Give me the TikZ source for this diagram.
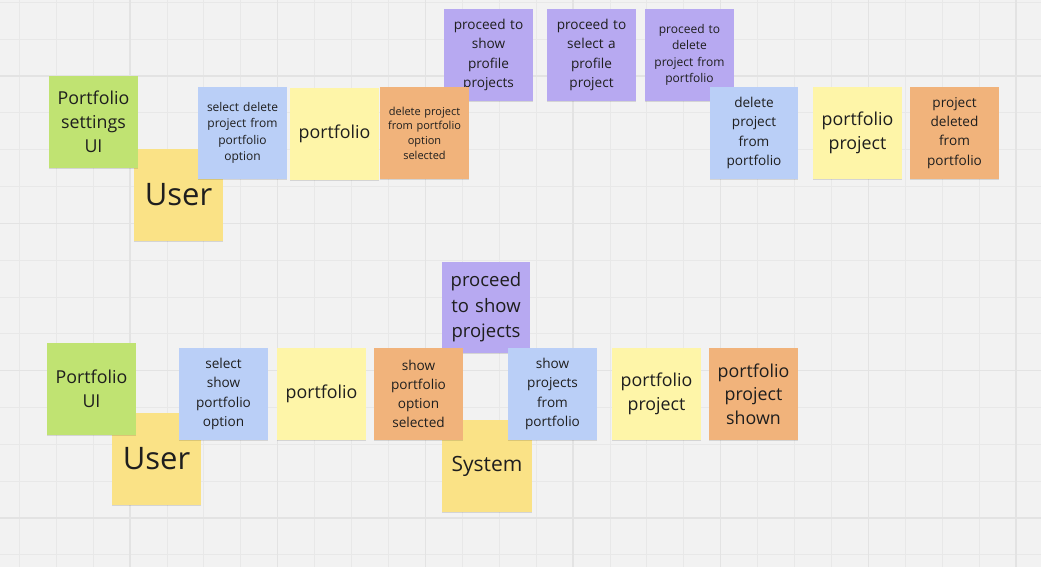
\documentclass[tikz,border=0pt]{standalone}
\usepackage{fontspec}
\setmainfont{Open Sans}
\usetikzlibrary{shadows}
\definecolor{bgc}{RGB}{242,242,242}
\definecolor{gridminor}{RGB}{232,232,232}
\definecolor{gridmajor}{RGB}{227,227,227}
\definecolor{cgreen}{RGB}{192,227,114}
\definecolor{cuser}{RGB}{250,226,134}
\definecolor{clight}{RGB}{254,245,168}
\definecolor{cblue}{RGB}{186,207,247}
\definecolor{corange}{RGB}{241,179,123}
\definecolor{cpurple}{RGB}{183,169,241}
\definecolor{ctext}{RGB}{30,30,30}
\tikzset{
  sticky/.style={rectangle, inner sep=0pt, minimum width=89pt, minimum height=92pt,
    text width=86pt, align=center, text=ctext,
    drop shadow={shadow xshift=0pt, shadow yshift=-1.3pt, opacity=0.12, fill=black}},
  fs11/.style={font=\fontsize{11}{14.7}\selectfont},
  fs12/.style={font=\fontsize{12}{16.3}\selectfont},
  fs135/.style={font=\fontsize{13.6}{19.2}\selectfont},
  fs18/.style={font=\fontsize{17.8}{24.2}\selectfont},
  fs185/.style={font=\fontsize{18.5}{25.5}\selectfont},
  fs21/.style={font=\fontsize{21}{26}\selectfont},
  fs31/.style={font=\fontsize{31}{36}\selectfont},
  gminor/.style={draw=gridminor, line width=0.9pt},
  gmajor/.style={draw=gridmajor, line width=1.2pt}
}
\begin{document}
\begin{tikzpicture}[x=1pt, y=-1pt]
\useasboundingbox (0,0) rectangle (1041,567);
\fill[bgc] (0,0) rectangle (1041,567);
% grid
\foreach \i in {0,...,27} {\draw[gminor] ({19.3+36.92*\i},0) -- ({19.3+36.92*\i},567);}
\foreach \j in {0,...,15} {\draw[gminor] (0,{2.4+36.83*\j}) -- (1041,{2.4+36.83*\j});}
\foreach \i in {0,...,6} {\draw[gmajor] ({130+147.67*\i},0) -- ({130+147.67*\i},567);}
\foreach \j in {0,...,3} {\draw[gmajor] (0,{76+147.33*\j}) -- (1041,{76+147.33*\j});}

% ---- top row ----
\node[sticky, fill=cuser, fs31] (u1) at (178.5,195) {User};
\node[sticky, fill=cgreen, fs18] (g1) at (93.5,122) {Portfolio\\settings\\UI};
\node[sticky, fill=cblue, fs12] (b1) at (242.5,133) {select delete\\project from\\portfolio\\option};
\node[sticky, fill=clight, fs18] (y1) at (334.5,134) {portfolio};
\node[sticky, fill=cpurple, fs135] (p1) at (488.5,55) {proceed to\\show\\profile\\projects};
\node[sticky, fill=corange, fs11] (o1) at (424.5,133) {delete project\\from portfolio\\option\\selected};
\node[sticky, fill=cpurple, fs135] (p2) at (591.5,55) {proceed to\\select a\\profile\\project};
\node[sticky, fill=cpurple, fs12] (p3) at (689.5,55) {proceed to\\delete\\project from\\portfolio};
\node[sticky, fill=cblue, fs135, minimum width=88pt] (b2) at (754,133) {delete\\project\\from\\portfolio};
\node[sticky, fill=clight, fs18] (y2) at (857.5,133) {portfolio\\project};
\node[sticky, fill=corange, fs135] (o2) at (954.5,133) {project\\deleted\\from\\portfolio};

% ---- bottom row ----
\node[sticky, fill=cuser, fs31] (u2) at (156.5,459) {User};
\node[sticky, fill=cgreen, fs18] (g2) at (91.5,389) {Portfolio\\UI};
\node[sticky, fill=cblue, fs135] (b3) at (223.5,394) {select\\show\\portfolio\\option};
\node[sticky, fill=clight, fs18] (y3) at (321.5,394) {portfolio};
\node[sticky, fill=cpurple, fs185, minimum width=88pt, minimum height=91pt] (p4) at (486,307.5) {proceed\\to show\\projects};
\node[sticky, fill=cuser, fs21, minimum width=90pt] (s1) at (487,466) {System};
\node[sticky, fill=corange, fs135] (o3) at (418.5,394) {show\\portfolio\\option\\selected};
\node[sticky, fill=cblue, fs135] (b4) at (552.5,394) {show\\projects\\from\\portfolio};
\node[sticky, fill=clight, fs18] (y4) at (656.5,394) {portfolio\\project};
\node[sticky, fill=corange, font=\fontsize{17.8}{23.7}\selectfont] (o4) at (753.5,394) {portfolio\\project\\shown};
\end{tikzpicture}
\end{document}
